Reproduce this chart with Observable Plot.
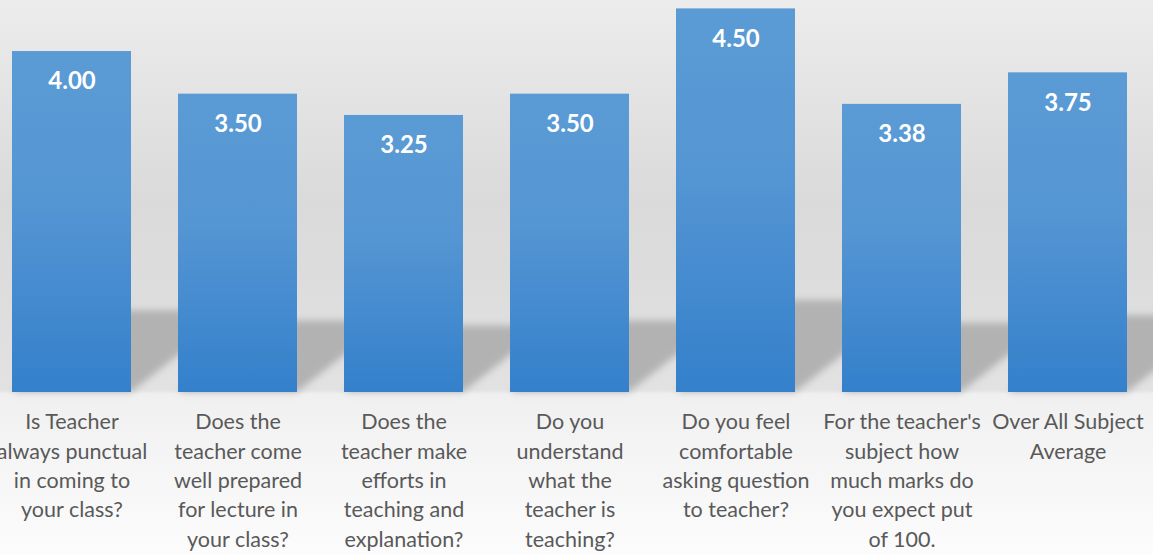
<!DOCTYPE html>
<html>
<head>
<meta charset="utf-8">
<script src="https://cdn.jsdelivr.net/npm/d3@7"></script>
<script src="https://cdn.jsdelivr.net/npm/@observablehq/plot@0.6"></script>
<style>
  html, body { margin: 0; padding: 0; background: #fff; }
  #chart { width: 1153px; height: 555px; overflow: hidden; }
</style>
</head>
<body>
<div id="chart"></div>
<script>
const categories = [
  "Is Teacher always punctual in coming to your class?",
  "Does the teacher come well prepared for lecture in your class?",
  "Does the teacher make efforts in teaching and explanation?",
  "Do you understand what the teacher is teaching?",
  "Do you feel comfortable asking question to teacher?",
  "For the teacher's subject how much marks do you expect put of 100.",
  "Over All Subject Average"
];
const values = [4.00, 3.50, 3.25, 3.50, 4.50, 3.38, 3.75];
const tickLabels = [
  "Is Teacher\nalways punctual\nin coming to\nyour class?",
  "Does the\nteacher come\nwell prepared\nfor lecture in\nyour class?",
  "Does the\nteacher make\nefforts in\nteaching and\nexplanation?",
  "Do you\nunderstand\nwhat the\nteacher is\nteaching?",
  "Do you feel\ncomfortable\nasking question\nto teacher?",
  "For the teacher's\nsubject how\nmuch marks do\nyou expect put\nof 100.",
  "Over All Subject\nAverage"
];

const data = categories.map((c, i) => ({cat: c, value: values[i], label: tickLabels[i]}));
const shadowRatio = 0.24;

const plot = Plot.plot({
  width: 1153,
  height: 555,
  style: {
    background: "linear-gradient(to bottom, #ececec 0px, #dadada 200px, #dedede 320px, #e2e2e2 390px, #f0f0f0 394px, #fcfcfc 555px)",
    overflow: "visible"
  },
  x: {domain: categories, range: [-12.6, 1150.6], paddingInner: 0.284, paddingOuter: 0.142, axis: null},
  y: {domain: [0, 4.5], range: [392, 8.4], axis: null},
  marks: [
    Plot.barY(data, {x: "cat", y: d => d.value * shadowRatio, fill: "#b2b2b2"}),
    Plot.barY(data, {x: "cat", y: "value", fill: "url(#barGrad)"}),
    Plot.text(data, {x: "cat", y: "value", text: d => d3.format(".2f")(d.value), dy: 30,
      fill: "white", fontFamily: "Lato", fontWeight: "bold", fontSize: 24, lineAnchor: "middle"}),
    Plot.text(data, {x: "cat", y: 0, text: "label", dy: 16, lineAnchor: "top", lineHeight: 1.363,
      fill: "#595959", fontFamily: "Lato", fontSize: 21.5})
  ]
});

const svg = d3.select(plot);
const defs = svg.insert("defs", ":first-child");
const grad = defs.append("linearGradient").attr("id", "barGrad")
  .attr("x1", 0).attr("y1", 0).attr("x2", 0).attr("y2", 1);
grad.append("stop").attr("offset", "0%").attr("stop-color", "#5b9bd5");
grad.append("stop").attr("offset", "45%").attr("stop-color", "#5495d3");
grad.append("stop").attr("offset", "100%").attr("stop-color", "#3480cb");
const blur = defs.append("filter").attr("id", "shadowBlur")
  .attr("x", "-10%").attr("y", "-30%").attr("width", "130%").attr("height", "160%");
blur.append("feGaussianBlur").attr("stdDeviation", 3.5);

const barGroups = svg.selectAll('g[aria-label="bar"]').nodes();
const shadowG = barGroups[0];
const wrap = document.createElementNS("http://www.w3.org/2000/svg", "g");
wrap.setAttribute("filter", "url(#shadowBlur)");
shadowG.parentNode.insertBefore(wrap, shadowG);
wrap.appendChild(shadowG);
shadowG.setAttribute("transform", "translate(0,392) skewX(-51.8) translate(0,-392)");

document.getElementById("chart").appendChild(plot);
</script>
</body>
</html>
